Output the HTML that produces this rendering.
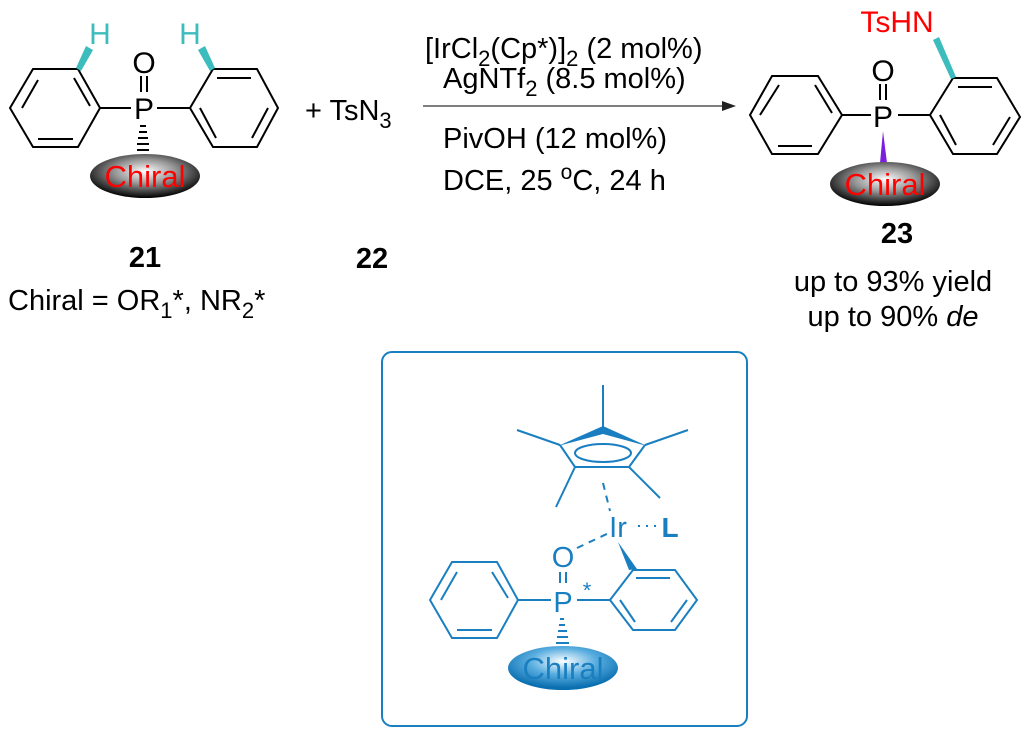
<!DOCTYPE html>
<html><head><meta charset="utf-8"><style>
html,body{margin:0;padding:0;background:#fff;}
svg{display:block;}
text{font-family:"Liberation Sans",Arial,sans-serif;}
</style></head><body>
<svg width="1030" height="737" viewBox="0 0 1030 737" xmlns="http://www.w3.org/2000/svg">
<defs>
<radialGradient id="gb" cx="0.5" cy="0.4" r="0.6">
<stop offset="0" stop-color="#ffffff"/><stop offset="0.45" stop-color="#999"/><stop offset="1" stop-color="#000"/>
</radialGradient>
<radialGradient id="gbl" cx="0.5" cy="0.35" r="0.6">
<stop offset="0" stop-color="#ffffff"/><stop offset="0.5" stop-color="#5aaee0"/><stop offset="1" stop-color="#0a6fb0"/>
</radialGradient>
</defs>

<g stroke="#000" stroke-width="2" fill="none">
<polygon points="10,108 33,69 78,69 100,108 78,147 33,147"/>
<line x1="22" y1="108" x2="38" y2="80"/><line x1="74" y1="78" x2="90" y2="106"/><line x1="38" y1="139" x2="73" y2="139"/>
<line x1="100" y1="108" x2="131" y2="108"/>
<polygon points="190,108 213,69 257,69 278,108 257,147 213,147"/>
<line x1="217" y1="78" x2="251" y2="78"/><line x1="268" y1="108" x2="252" y2="138"/><line x1="200" y1="108" x2="216" y2="138"/>
<line x1="157" y1="108" x2="190" y2="108"/>
<line x1="141" y1="76" x2="141" y2="92"/><line x1="147" y1="76" x2="147" y2="92"/>
</g>
<g stroke="#000" stroke-width="2">
<line x1="140" y1="126" x2="146" y2="126"/><line x1="139" y1="132" x2="147" y2="132"/><line x1="138" y1="138" x2="148" y2="138"/><line x1="137" y1="144" x2="149" y2="144"/><line x1="137" y1="150" x2="149" y2="150"/>
</g>
<polygon points="76,68 81,71 93,50 86,46" fill="#3cbcbc"/>
<polygon points="215,68 210,71 198,50 205,46" fill="#3cbcbc"/>
<text x="100" y="44" font-size="30" fill="#3cbcbc" text-anchor="middle">H</text>
<text x="190" y="44" font-size="30" fill="#3cbcbc" text-anchor="middle">H</text>
<text x="144" y="73" font-size="30" text-anchor="middle">O</text>
<text x="144" y="119" font-size="30" text-anchor="middle">P</text>
<ellipse cx="145" cy="176" rx="55" ry="22" fill="url(#gb)"/>
<text x="145" y="187" font-size="31" fill="#f00" text-anchor="middle">Chiral</text>

<text x="145" y="267" font-size="29" font-weight="bold" text-anchor="middle">21</text>
<text x="8" y="310" font-size="29">Chiral = OR<tspan font-size="22" dy="8">1</tspan><tspan dy="-8">*, NR</tspan><tspan font-size="22" dy="8">2</tspan><tspan dy="-8">*</tspan></text>

<text x="305" y="120" font-size="29">+ TsN<tspan font-size="22" dy="8">3</tspan></text>
<text x="372" y="268" font-size="29" font-weight="bold" text-anchor="middle">22</text>

<line x1="423" y1="106" x2="728" y2="106" stroke="#555" stroke-width="1.6"/>
<polygon points="736,106 722,101 722,111" fill="#222"/>
<text x="425" y="58" font-size="29">[IrCl<tspan font-size="22" dy="8">2</tspan><tspan dy="-8">(Cp*)]</tspan><tspan font-size="22" dy="8">2</tspan><tspan dy="-8"> (2 mol%)</tspan></text>
<text x="443" y="88" font-size="29">AgNTf<tspan font-size="22" dy="8">2</tspan><tspan dy="-8"> (8.5 mol%)</tspan></text>
<text x="443" y="148" font-size="29">PivOH (12 mol%)</text>
<text x="443" y="190" font-size="29">DCE, 25 <tspan font-size="21" dy="-11">o</tspan><tspan dy="11">C, 24 h</tspan></text>

<g stroke="#000" stroke-width="2" fill="none">
<polygon points="750,115 772,76 818,76 842,115 818,154 772,154"/>
<line x1="779" y1="85" x2="760" y2="115"/><line x1="815" y1="85" x2="832" y2="113"/><line x1="778" y1="146" x2="812" y2="146"/>
<line x1="842" y1="115" x2="871" y2="115"/>
<polygon points="930,115 953,78 997,78 1020,117 997,154 953,154"/>
<line x1="958" y1="87" x2="992" y2="87"/><line x1="1010" y1="117" x2="993" y2="145"/><line x1="940" y1="115" x2="956" y2="145"/>
<line x1="898" y1="115" x2="930" y2="115"/>
<line x1="880" y1="84" x2="880" y2="100"/><line x1="886" y1="84" x2="886" y2="100"/>
</g>
<polygon points="951,79 956,77 939,37 933,40" fill="#3cbcbc"/>
<text x="897" y="32" font-size="30" fill="#f00" text-anchor="middle">TsHN</text>
<text x="883" y="81" font-size="30" text-anchor="middle">O</text>
<text x="883" y="127" font-size="30" text-anchor="middle">P</text>
<polygon points="883,131 880,163 887,163" fill="#7a1fe0"/>
<ellipse cx="885" cy="184" rx="55" ry="22" fill="url(#gb)"/>
<text x="885" y="195" font-size="31" fill="#f00" text-anchor="middle">Chiral</text>
<text x="897" y="243" font-size="29" font-weight="bold" text-anchor="middle">23</text>
<text x="893" y="291" font-size="29" text-anchor="middle">up to 93% yield</text>
<text x="893" y="326" font-size="29" text-anchor="middle">up to 90% <tspan font-style="italic">de</tspan></text>

<rect x="382" y="352" width="365" height="374" rx="10" fill="none" stroke="#1a7fc0" stroke-width="2"/>
<g stroke="#1a7fc0" stroke-width="2" fill="none">
<line x1="603" y1="385" x2="603" y2="427"/>
<line x1="560" y1="445" x2="517" y2="430"/>
<line x1="645" y1="445" x2="688" y2="430"/>
<line x1="575" y1="467" x2="556" y2="507"/>
<line x1="629" y1="467" x2="660" y2="498"/>
<polyline points="560,445 575,467 629,467 645,445"/>
<ellipse cx="603" cy="453" rx="28" ry="9"/>
<line x1="603" y1="483" x2="610" y2="511" stroke-dasharray="7,6"/>
<line x1="577" y1="548" x2="611" y2="532" stroke-dasharray="7,6"/>
<line x1="638" y1="526" x2="660" y2="526" stroke-dasharray="2,6"/>
<polygon points="430,600 452,562 497,562 518,600 497,638 452,638"/>
<line x1="441" y1="600" x2="457" y2="572"/><line x1="492" y1="572" x2="508" y2="598"/><line x1="457" y1="630" x2="492" y2="630"/>
<line x1="518" y1="600" x2="551" y2="600"/>
<polygon points="610,600 633,570 675,570 697,600 675,630 633,630"/>
<line x1="636" y1="578" x2="670" y2="578"/><line x1="687" y1="600" x2="671" y2="622"/><line x1="620" y1="600" x2="635" y2="622"/>
<line x1="577" y1="600" x2="610" y2="600"/>
<line x1="560" y1="572" x2="560" y2="583"/><line x1="566" y1="572" x2="566" y2="583"/>
</g>
<polygon points="558,446 603,426 647,446 603,434" fill="#1a7fc0"/>
<polygon points="618,542 629,570 637,569" fill="#1a7fc0"/>
<g stroke="#1a7fc0" stroke-width="2">
<line x1="560" y1="619" x2="564" y2="619"/><line x1="559" y1="625" x2="565" y2="625"/><line x1="558" y1="631" x2="567" y2="631"/><line x1="557" y1="637" x2="568" y2="637"/><line x1="556" y1="643" x2="569" y2="643"/>
</g>
<text x="618" y="537" font-size="29" fill="#1a7fc0" text-anchor="middle">Ir</text>
<text x="670" y="537" font-size="28" fill="#1a7fc0" font-weight="bold" text-anchor="middle">L</text>
<text x="563" y="567" font-size="29" fill="#1a7fc0" text-anchor="middle">O</text>
<text x="563" y="612" font-size="29" fill="#1a7fc0" text-anchor="middle">P</text>
<text x="587" y="598" font-size="22" fill="#1a7fc0" text-anchor="middle">*</text>
<ellipse cx="563" cy="668" rx="55" ry="22" fill="url(#gbl)"/>
<text x="563" y="679" font-size="31" fill="#1a7fc0" text-anchor="middle">Chiral</text>
</svg>
</body></html>
